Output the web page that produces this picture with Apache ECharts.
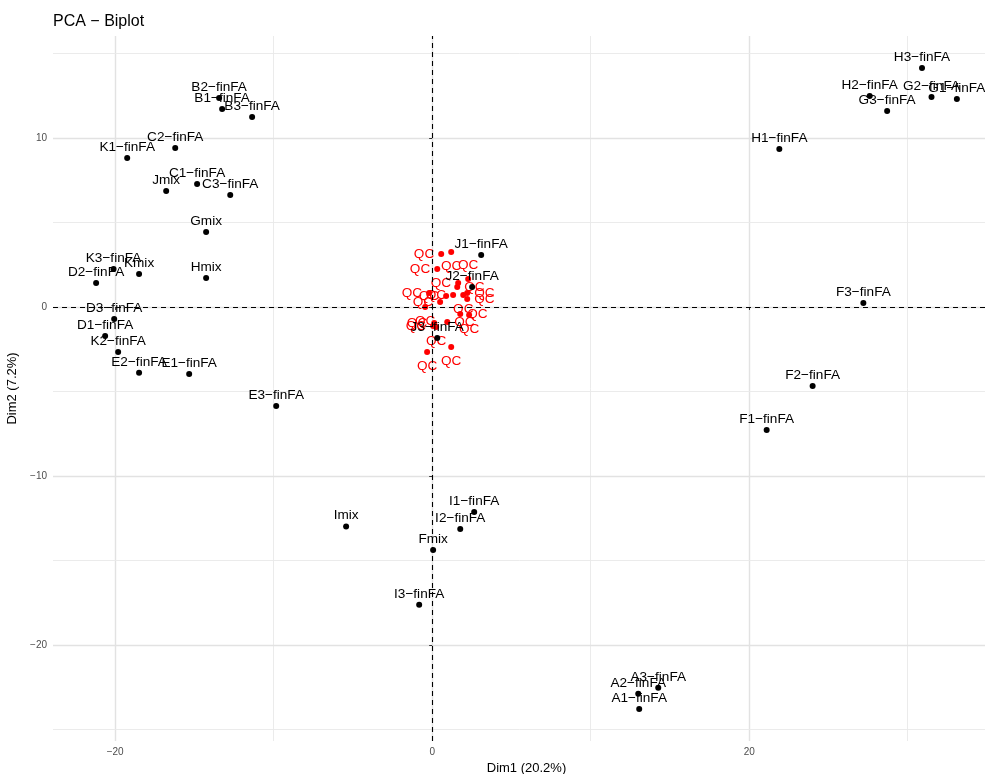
<!DOCTYPE html>
<html>
<head>
<meta charset="utf-8">
<title>PCA - Biplot</title>
<script src="https://cdn.jsdelivr.net/npm/echarts@6/dist/echarts.min.js"></script>
<style>
  html, body { margin: 0; padding: 0; background: #fff; }
  #chart { width: 985px; height: 774px; }
</style>
</head>
<body>
<div id="chart"></div>
<script>
// individuals (black points)
var indNames = [
    'A1−finFA', 'A2−finFA', 'A3−finFA',
    'B1−finFA', 'B2−finFA', 'B3−finFA',
    'C1−finFA', 'C2−finFA', 'C3−finFA',
    'D1−finFA', 'D2−finFA', 'D3−finFA',
    'E1−finFA', 'E2−finFA', 'E3−finFA',
    'F1−finFA', 'F2−finFA', 'F3−finFA', 'Fmix',
    'G1−finFA', 'G2−finFA', 'G3−finFA', 'Gmix',
    'H1−finFA', 'H2−finFA', 'H3−finFA', 'Hmix',
    'I1−finFA', 'I2−finFA', 'I3−finFA', 'Imix',
    'J1−finFA', 'J2−finFA', 'J3−finFA', 'Jmix',
    'K1−finFA', 'K2−finFA', 'K3−finFA', 'Kmix'
];
var indDim1 = [
    13.06, 13.00, 14.26,
    -13.25, -13.44, -11.36,
    -14.83, -16.21, -12.74,
    -20.63, -21.20, -20.06,
    -15.33, -18.49, -9.84,
    21.10, 24.00, 27.20, 0.06,
    33.10, 31.50, 28.70, -14.26,
    21.90, 27.60, 30.90, -14.26,
    2.65, 1.77, -0.82, -5.43,
    3.09, 2.52, 0.32, -16.78,
    -19.24, -19.81, -20.10, -18.49
];
var indDim2 = [
    -23.79, -22.90, -22.54,
    11.72, 12.37, 11.24,
    7.28, 9.41, 6.63,
    -1.72, 1.42, -0.71,
    -3.96, -3.90, -5.86,
    -7.28, -4.67, 0.24, -14.38,
    12.31, 12.43, 11.60, 4.44,
    9.35, 12.49, 14.14, 1.72,
    -12.13, -13.14, -17.63, -13.00,
    3.08, 1.18, -1.83, 6.86,
    8.82, -2.66, 2.25, 1.95
];

// quality controls (red points)
var qcDim1 = [0.57, 1.20, 0.32, 2.27, 1.64, 1.58, -0.19, 1.32, 1.96, 2.21, 0.88,
              2.21, 0.50, -0.44, 1.77, 2.33, 0.06, 0.13, 0.25, 0.95, -0.32, 1.20];
var qcDim2 = [3.14, 3.25, 2.25, 1.66, 1.42, 1.18, 0.83, 0.71, 0.71, 0.83, 0.65,
              0.47, 0.30, 0.00, -0.41, -0.47, -1.12, -0.95, -1.18, -0.89, -2.66, -2.37];

// axis ticks / grid
var xMajor = [-20, 0, 20];
var xMinor = [-10, 10, 30];
var yMajor = [-20, -10, 0, 10];
var yMinor = [-25, -15, -5, 5, 15];

// où les étiquettes QC sont posées (façon ggrepel)
var qcLabelPos = ['left', 'bottom', 'left', 'top', 'left', 'right', 'left', 'left', 'bottom', 'right', 'left',
                  'right', 'left', 'bottom', 'right', 'bottom', 'left', 'left', 'bottom', 'right', 'bottom', 'bottom'];

var FONT = '"Liberation Sans", Arial, sans-serif';

function minus(v) {
    return String(v).replace('-', '−');
}

var chart = echarts.init(document.getElementById('chart'));

var gridLines = [];
xMajor.forEach(function (v) {
    gridLines.push({ xAxis: v, lineStyle: { color: '#e2e2e2', width: 1.4, type: 'solid' } });
});
xMinor.forEach(function (v) {
    gridLines.push({ xAxis: v, lineStyle: { color: '#e9e9e9', width: 0.9, type: 'solid' } });
});
yMajor.forEach(function (v) {
    gridLines.push({ yAxis: v, lineStyle: { color: '#e2e2e2', width: 1.4, type: 'solid' } });
});
yMinor.forEach(function (v) {
    gridLines.push({ yAxis: v, lineStyle: { color: '#e9e9e9', width: 0.9, type: 'solid' } });
});

var indData = indNames.map(function (n, i) {
    return { name: n, value: [indDim1[i], indDim2[i]] };
});
var qcData = qcDim1.map(function (x, i) {
    return { name: 'QC', value: [x, qcDim2[i]], label: { position: qcLabelPos[i] } };
});

var option = {
    animation: false,
    backgroundColor: '#ffffff',
    title: {
        text: 'PCA − Biplot',
        left: 48,
        top: 9,
        textStyle: { fontFamily: FONT, fontSize: 16, fontWeight: 'normal', color: '#000' }
    },
    grid: { left: 53, top: 36, width: 947, height: 705, outerBoundsMode: 'none', containLabel: false },
    xAxis: {
        type: 'value',
        min: -23.92,
        max: 35.82,
        name: 'Dim1 (20.2%)',
        nameLocation: 'middle',
        nameGap: 19,
        nameTextStyle: { fontFamily: FONT, fontSize: 13, color: '#000' },
        axisLine: { show: false },
        axisTick: { show: true, customValues: xMajor, length: 3, lineStyle: { color: '#333', width: 1 } },
        axisLabel: {
            customValues: xMajor, margin: 6,
            fontFamily: FONT, fontSize: 10, color: '#4d4d4d',
            formatter: minus
        },
        splitLine: { show: false }
    },
    yAxis: {
        type: 'value',
        min: -25.69,
        max: 16.04,
        name: 'Dim2 (7.2%)',
        nameLocation: 'middle',
        nameGap: 30,
        nameRotate: 90,
        nameTextStyle: { fontFamily: FONT, fontSize: 13, color: '#000' },
        axisLine: { show: false },
        axisTick: { show: true, customValues: yMajor, length: 3, lineStyle: { color: '#333', width: 1 } },
        axisLabel: {
            customValues: yMajor, margin: 6,
            fontFamily: FONT, fontSize: 10, color: '#4d4d4d',
            formatter: minus
        },
        splitLine: { show: false }
    },
    series: [
        {
            // grille façon theme_minimal (sous les points)
            type: 'scatter',
            data: [],
            z: 0,
            silent: true,
            markLine: {
                z: 0,
                silent: true,
                symbol: 'none',
                label: { show: false },
                animation: false,
                data: gridLines
            }
        },
        {
            // axes zéro en pointillés
            type: 'scatter',
            data: [],
            z: 2,
            silent: true,
            markLine: {
                z: 5,
                silent: true,
                symbol: 'none',
                label: { show: false },
                animation: false,
                lineStyle: { color: '#000', width: 1.1, type: [5, 4] },
                data: [{ xAxis: 0 }, { yAxis: 0 }]
            }
        },
        {
            name: 'ind',
            type: 'scatter',
            z: 4,
            symbol: 'circle',
            symbolSize: 6,
            itemStyle: { color: '#000', opacity: 1 },
            label: {
                show: true,
                position: 'top',
                distance: 1,
                formatter: '{b}',
                fontFamily: FONT,
                fontSize: 13.6,
                color: '#000',
                textBorderWidth: 0
            },
            data: indData
        },
        {
            name: 'QC',
            type: 'scatter',
            z: 3,
            symbol: 'circle',
            symbolSize: 6,
            itemStyle: { color: '#ff0000', opacity: 1 },
            label: {
                show: true,
                distance: 4,
                formatter: '{b}',
                fontFamily: FONT,
                fontSize: 13.6,
                color: '#ff0000',
                textBorderWidth: 0
            },
            data: qcData
        }
    ]
};

chart.setOption(option);
</script>
</body>
</html>
